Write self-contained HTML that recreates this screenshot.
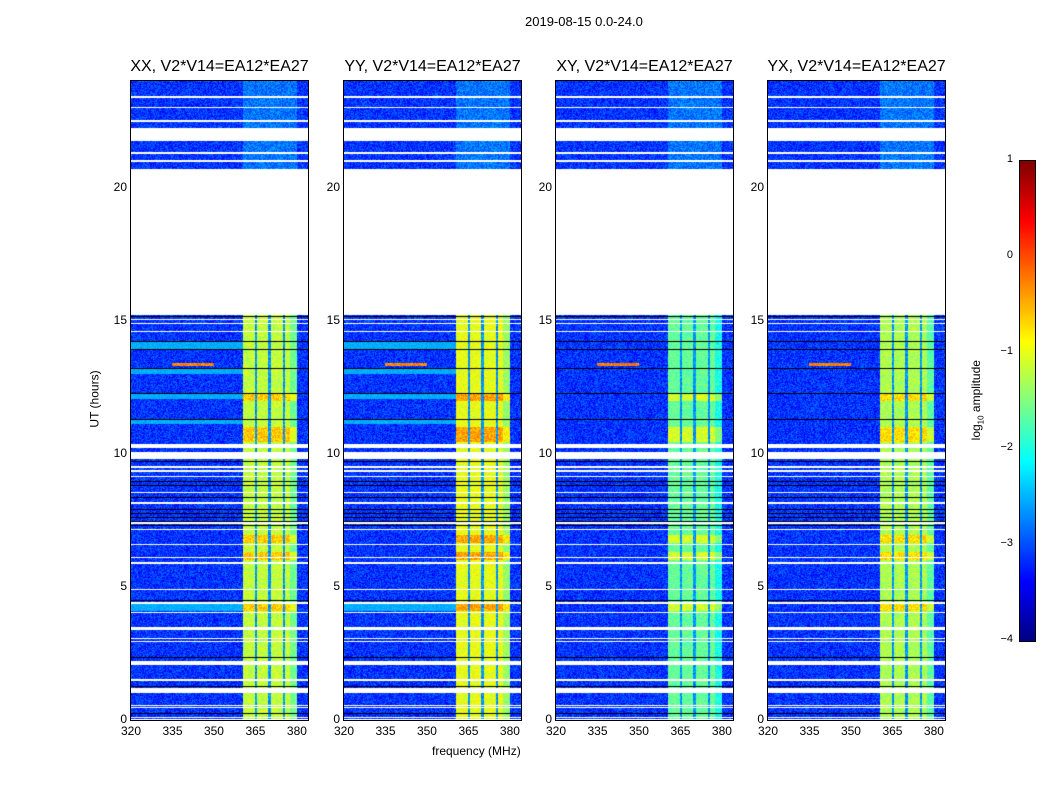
<!DOCTYPE html>
<html><head><meta charset="utf-8">
<style>
body{margin:0;background:#fff;width:1050px;height:800px;position:relative;overflow:hidden;font-family:"Liberation Sans",sans-serif;}
.t{position:absolute;font-size:12px;color:#000;white-space:nowrap}
canvas{position:absolute}
.frame{position:absolute;border:1px solid #000;box-sizing:border-box}
</style></head><body>
<div class="t" style="left:525px;top:14px;font-size:13px">2019-08-15 0.0-24.0</div>
<div class="t" style="left:432px;top:744px;font-size:12px">frequency (MHz)</div>
<div class="t" style="left:66px;top:392px;transform:rotate(-90deg);font-size:12px">UT (hours)</div>
<div id="root"></div>
<canvas id="cbar" width="15" height="480" style="left:1019px;top:160px;border:1px solid #000;box-sizing:content-box;"></canvas>
<div class="t" style="left:937px;top:392px;transform:rotate(-90deg);font-size:12px">log<sub style="font-size:8px">10</sub> amplitude</div>
<script>
const panelTitles=["XX, V2*V14=EA12*EA27","YY, V2*V14=EA12*EA27","XY, V2*V14=EA12*EA27","YX, V2*V14=EA12*EA27"];
const freqTicks=[320,335,350,365,380];
const timeTicks=[0,5,10,15,20];
const cbarTicks=[1,0,-1,-2,-3,-4];
const gaps=[[15.2,20.7],[21.75,22.25],[10.2,10.38],[9.8,10.05],[2.05,2.2],[1.0,1.2]];
const whiteLines=[22.5,23.0,23.4,21.3,21.0,15.05,14.9,14.6,9.5,9.35,9.15,8.55,8.15,7.4,7.15,6.6,6.1,5.9,4.9,4.4,4.05,3.45,3.4,3.05,2.95,1.5,0.55,0.48,0.1,0.02];
const blackLines=[15.15,14.2,13.9,13.2,12.25,11.3,9.7,2.35,1.25,0.25,4.5];
const blackBands=[[8.7,9.05],[8.25,8.5],[7.25,7.95]];
const brightRows=[[13.9,14.2],[13.0,13.2],[12.05,12.25],[11.1,11.3],[4.1,4.4]];
const rfiBand=[360.5,380];
const rfiDarkFreqs=[365.2,370.2,375.3];
const bandLevel=[-1.25,-1.05,-1.7,-1.35];
const hotPatches=[[6.65,6.95],[10.45,11.0],[4.1,4.4],[6.0,6.3],[12.0,12.3]];
const redLine=[13.3,13.4,335,350];
const fMin=320,fMax=384,tMin=0,tMax=24;
const lefts=[131,344,556,768],top0=81,W=177,H=639;
function jet(v){let t=(v+4)/5;t=Math.max(0,Math.min(1,t));const c=x=>Math.round(255*Math.max(0,Math.min(1,x)));return [c(1.5-Math.abs(4*t-3)),c(1.5-Math.abs(4*t-2)),c(1.5-Math.abs(4*t-1))];}
function hash(a,b,c){let h=(a*374761393+b*668265263+c*2147483647)|0;h=(h^(h>>>13))*1274126177;h=h^(h>>>16);return ((h>>>0)%1000)/1000;}
const inR=(h,r)=>h>=r[0]&&h<r[1];
const root=document.getElementById('root');
panelTitles.forEach((title,p)=>{
  const L=lefts[p];
  const xs=f=>L+(f-fMin)/(fMax-fMin)*W;
  const ys=h=>top0+H-(h-tMin)/(tMax-tMin)*H;
  const cv=document.createElement('canvas');
  
  
  cv.width=W;cv.height=H;cv.style.left=L+'px';cv.style.top=top0+'px';
  root.appendChild(cv);
  const ctx=cv.getContext('2d');const img=ctx.createImageData(W,H);
  for(let y=0;y<H;y++){
    const h=(H-y-0.5)/H*(tMax-tMin)+tMin;
    let row='data';
    if(gaps.some(g=>inR(h,g)))row='gap';
    else if(blackBands.some(g=>inR(h,g))&&(y%4==0))row='black';
    else if(blackLines.some(b=>Math.abs(b-h)<0.02))row='black';
    else if(whiteLines.some(b=>Math.abs(b-h)<0.025))row='gap';
    for(let x=0;x<W;x++){
      const i=(y*W+x)*4;
      if(row==='gap'){img.data[i]=255;img.data[i+1]=255;img.data[i+2]=255;img.data[i+3]=255;continue;}
      if(row==='black'){img.data[i+3]=255;continue;}
      const f=fMin+(x+0.5)/W*(fMax-fMin);
      const n=hash(x,y,p);
      let v=-3.45+n*0.65;
      const upper=h>20.7;
      if(p<2&&brightRows.some(r=>inR(h,r))&&f<rfiBand[0])v=-2.65+n*0.25;
      if(f>=rfiBand[0]&&f<rfiBand[1]){
        if(upper)v=-3.1+n*0.6;
        else if(rfiDarkFreqs.some(d=>Math.abs(d-f)<0.5))v=-2.9+n*0.5;
        else{v=bandLevel[p]+n*0.55-0.2;
          if(hotPatches.some(r=>inR(h,r)))v+=0.55;
          if(f>377.5)v-=0.4;}
      }
      if(h>=redLine[0]&&h<redLine[1]&&f>=redLine[2]&&f<redLine[3])v=-0.2+n*0.5-0.3;
      const c=jet(v);img.data[i]=c[0];img.data[i+1]=c[1];img.data[i+2]=c[2];img.data[i+3]=255;
    }
  }
  ctx.putImageData(img,0,0);
  const fr=document.createElement('div');fr.className='frame';
  
  
  fr.style.cssText=`left:${L-1}px;top:${top0-1}px;width:${W+2}px;height:${H+2}px`;
  root.appendChild(fr);
  const tt=document.createElement('div');tt.className='t';
  
  
  tt.textContent=title;tt.style.cssText=`left:${L-10}px;top:58px;font-size:16px;width:${W+20}px;text-align:center`;
  root.appendChild(tt);
  freqTicks.forEach(f=>{
    const lb=document.createElement('div');lb.className='t';
    
    
    lb.textContent=f;lb.style.cssText=`left:${xs(f)-12}px;top:724px;width:24px;text-align:center`;
    root.appendChild(lb);
  });
  timeTicks.forEach(h=>{
    const lb=document.createElement('div');lb.className='t';
    
    
    lb.textContent=h;lb.style.cssText=`left:${L-34}px;top:${ys(h)-8}px;width:30px;text-align:right`;
    root.appendChild(lb);
  });
});
const cb=document.getElementById('cbar').getContext('2d');
for(let y=0;y<480;y++){const c=jet(1-y/480*5);cb.fillStyle=`rgb(${c})`;cb.fillRect(0,y,15,1);}
cbarTicks.forEach(v=>{
  const y=160+(1-v)/5*480;
  const lb=document.createElement('div');lb.className='t';
  
  
  lb.textContent=v<0?'\u2212'+(-v):v;lb.style.cssText=`left:985px;top:${y-7}px;width:28px;text-align:right;font-size:11px`;
  root.appendChild(lb);
});
</script>
</body></html>
